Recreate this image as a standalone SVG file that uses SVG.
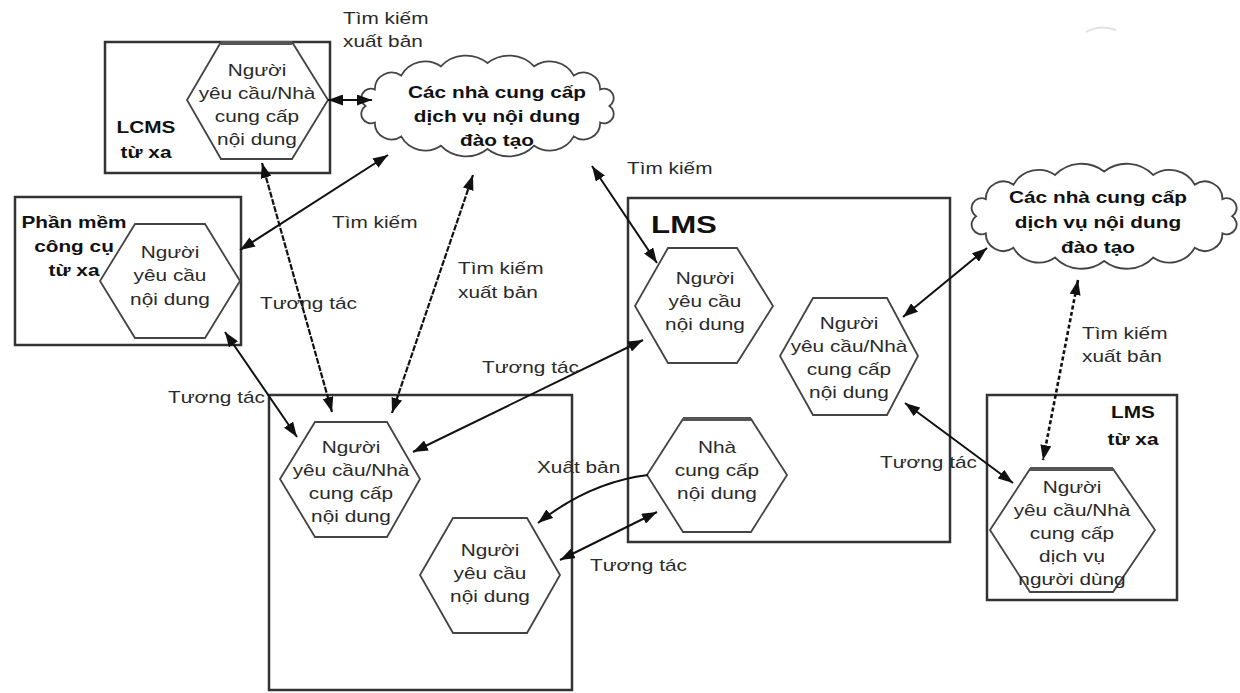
<svg xmlns="http://www.w3.org/2000/svg" xmlns:xlink="http://www.w3.org/1999/xlink" width="1240" height="693" viewBox="0 0 1240 693">
  <style>
    .box { fill: none; stroke: #333; stroke-width: 2.5; }
    .hex { fill: #fff; stroke: #444; stroke-width: 1.8; }
    .cap { stroke: #555; stroke-width: 4; }
    .cloud { fill: #fff; stroke: #444; stroke-width: 1.8; }
    .t { font-family: "Liberation Sans", Arial, sans-serif; font-size: 16px; fill: #2a2a2a; }
    .b { font-weight: bold; fill: #111; }
    .big { font-size: 24px; }
    .m { text-anchor: middle; }
    .c { fill: none; stroke: #111; stroke-width: 2; marker-start: url(#arr); marker-end: url(#arr); }
    .d { stroke-dasharray: 6 1.5; stroke-width: 2.2; }
    .dd { stroke-dasharray: 4 2.5; stroke-width: 2.6; }
    .one { marker-start: none; }
  </style>
  <defs>
    <marker id="arr" viewBox="0 0 15 11" refX="15" refY="5.5" markerWidth="15" markerHeight="11" markerUnits="userSpaceOnUse" orient="auto-start-reverse">
      <path d="M0,0 L15,5.5 L0,11 Z" fill="#111"/>
    </marker>
    <!-- bumpy cloud outline, local box about 0..257 x 0..108 -->
    <path id="cloudShape" d="M10.5,56 A9.5,9.5 0 0 1 19.8,39.5 A16.8,16.8 0 0 1 46.2,25.6 A27.5,27.5 0 0 1 85.8,16.3 A34.9,34.9 0 0 1 132.5,13 A34.9,34.9 0 0 1 179.2,16.3 A27.5,27.5 0 0 1 218.8,25.6 A16.8,16.8 0 0 1 245.2,39.5 A9.5,9.5 0 0 1 254.5,56 A9.5,9.5 0 0 1 245.2,72.5 A16.8,16.8 0 0 1 218.8,86.4 A27.5,27.5 0 0 1 179.2,95.7 A34.9,34.9 0 0 1 132.5,99 A34.9,34.9 0 0 1 85.8,95.7 A27.5,27.5 0 0 1 46.2,86.4 A16.8,16.8 0 0 1 19.8,72.5 A9.5,9.5 0 0 1 10.5,56 Z"/>
  </defs>

  <rect width="1240" height="693" fill="#fff"/>

  <!-- faint stray stroke, top right -->
  <path d="M1086,32 Q1100,24 1116,30" fill="none" stroke="#e2e2e2" stroke-width="2"/>

  <!-- container boxes -->
  <g id="box-lcms">
    <rect class="box" x="105" y="42" width="225" height="131"/>
    <text class="t b m" transform="translate(146,133) scale(1.3,1)"><tspan x="0">LCMS</tspan><tspan x="0" dy="25">từ xa</tspan></text>
  </g>
  <g id="box-tool">
    <rect class="box" x="15" y="197" width="226" height="148"/>
    <text class="t b m" transform="translate(74,228) scale(1.3,1)"><tspan x="0">Phần mềm</tspan><tspan x="0" dy="24">công cụ</tspan><tspan x="0" dy="24">từ xa</tspan></text>
  </g>
  <g id="box-local">
    <rect class="box" x="269" y="395" width="303" height="295"/>
  </g>
  <g id="box-lms">
    <rect class="box" x="628" y="198" width="322" height="344"/>
    <text class="t b big m" transform="translate(684,233) scale(1.3,1)">LMS</text>
  </g>
  <g id="box-lms-remote">
    <rect class="box" x="987" y="395" width="190" height="205"/>
    <text class="t b m" transform="translate(1133,418) scale(1.3,1)"><tspan x="0">LMS</tspan><tspan x="0" dy="27">từ xa</tspan></text>
  </g>

  <!-- clouds -->
  <g id="cloud-1">
    <use xlink:href="#cloudShape" class="cloud" transform="translate(355,50)"/>
    <text class="t b m" transform="translate(497,98) scale(1.3,1)"><tspan x="0">Các nhà cung cấp</tspan><tspan x="0" dy="24">dịch vụ nội dung</tspan><tspan x="0" dy="24">đào tạo</tspan></text>
  </g>
  <g id="cloud-2">
    <use xlink:href="#cloudShape" class="cloud" transform="translate(965,158) scale(1.05,1.04)"/>
    <text class="t b m" transform="translate(1098,203) scale(1.3,1)"><tspan x="0">Các nhà cung cấp</tspan><tspan x="0" dy="25">dịch vụ nội dung</tspan><tspan x="0" dy="25">đào tạo</tspan></text>
  </g>

  <!-- hexagon nodes -->
  <g id="hex-lcms">
    <polygon class="hex" points="221,42 292,42 328,100 292,159 221,159 187,100"/>
    <line class="cap" x1="221" y1="43" x2="292" y2="43"/>
    <text class="t m" transform="translate(257,76) scale(1.3,1)"><tspan x="0">Người</tspan><tspan x="0" dy="23">yêu cầu/Nhà</tspan><tspan x="0" dy="23">cung cấp</tspan><tspan x="0" dy="23">nội dung</tspan></text>
  </g>
  <g id="hex-tool">
    <polygon class="hex" points="135,224 205,224 240,281 205,338 135,338 100,281"/>
    <text class="t m" transform="translate(170,258) scale(1.3,1)"><tspan x="0">Người</tspan><tspan x="0" dy="23.5">yêu cầu</tspan><tspan x="0" dy="23.5">nội dung</tspan></text>
  </g>
  <g id="hex-local-1">
    <polygon class="hex" points="315,422 387,422 420,479 387,537 315,537 280,479"/>
    <text class="t m" transform="translate(351,453) scale(1.3,1)"><tspan x="0">Người</tspan><tspan x="0" dy="23">yêu cầu/Nhà</tspan><tspan x="0" dy="23">cung cấp</tspan><tspan x="0" dy="23">nội dung</tspan></text>
  </g>
  <g id="hex-local-2">
    <polygon class="hex" points="453,518 527,518 560,575 527,633 453,633 420,575"/>
    <text class="t m" transform="translate(490,556) scale(1.3,1)"><tspan x="0">Người</tspan><tspan x="0" dy="23">yêu cầu</tspan><tspan x="0" dy="23">nội dung</tspan></text>
  </g>
  <g id="hex-lms-1">
    <polygon class="hex" points="668,248 737,248 773,306 737,363 668,363 635,306"/>
    <text class="t m" transform="translate(705,284) scale(1.3,1)"><tspan x="0">Người</tspan><tspan x="0" dy="23">yêu cầu</tspan><tspan x="0" dy="23">nội dung</tspan></text>
  </g>
  <g id="hex-lms-2">
    <polygon class="hex" points="813,298 887,298 918,356 887,415 813,415 780,356"/>
    <text class="t m" transform="translate(849,329) scale(1.3,1)"><tspan x="0">Người</tspan><tspan x="0" dy="23">yêu cầu/Nhà</tspan><tspan x="0" dy="23">cung cấp</tspan><tspan x="0" dy="23">nội dung</tspan></text>
  </g>
  <g id="hex-lms-3">
    <polygon class="hex" points="683,419 751,419 787,475 751,532 683,532 647,475"/>
    <line class="cap" x1="683" y1="419" x2="751" y2="419"/>
    <text class="t m" transform="translate(717,453) scale(1.3,1)"><tspan x="0">Nhà</tspan><tspan x="0" dy="23">cung cấp</tspan><tspan x="0" dy="23">nội dung</tspan></text>
  </g>
  <g id="hex-remote">
    <polygon class="hex" points="1030,469 1113,469 1155,530 1113,592 1030,592 990,530"/>
    <line class="cap" x1="1030" y1="469" x2="1113" y2="469"/>
    <text class="t m" transform="translate(1072,493) scale(1.3,1)"><tspan x="0">Người</tspan><tspan x="0" dy="23">yêu cầu/Nhà</tspan><tspan x="0" dy="23">cung cấp</tspan><tspan x="0" dy="23">dịch vụ</tspan><tspan x="0" dy="23">người dùng</tspan></text>
  </g>

  <!-- connectors -->
  <g id="connectors">
    <line class="c" x1="328" y1="100" x2="372" y2="100"/>
    <line class="c" x1="240" y1="250" x2="388" y2="155"/>
    <line class="c d" x1="262" y1="163" x2="332" y2="412"/>
    <line class="c" x1="225" y1="332" x2="297" y2="437"/>
    <line class="c d" x1="473" y1="175" x2="392" y2="413"/>
    <line class="c" x1="592" y1="166" x2="657" y2="263"/>
    <line class="c" x1="643" y1="340" x2="413" y2="452"/>
    <path class="c one" d="M648,475 Q590,482 538,523"/>
    <line class="c" x1="560" y1="560" x2="657" y2="512"/>
    <line class="c" x1="987" y1="248" x2="903" y2="317"/>
    <line class="c" x1="905" y1="403" x2="1013" y2="483"/>
    <line class="c dd" x1="1078" y1="280" x2="1043" y2="460"/>

    <!-- connector labels -->
    <text class="t" transform="translate(343,24) scale(1.3,1)"><tspan x="0">Tìm kiếm</tspan><tspan x="0" dy="23">xuất bản</tspan></text>
    <text class="t" transform="translate(332,228) scale(1.3,1)">Tìm kiếm</text>
    <text class="t" transform="translate(458,274) scale(1.3,1)"><tspan x="0">Tìm kiếm</tspan><tspan x="0" dy="24">xuất bản</tspan></text>
    <text class="t" transform="translate(627,174) scale(1.3,1)">Tìm kiếm</text>
    <text class="t" transform="translate(260,309) scale(1.3,1)">Tương tác</text>
    <text class="t" transform="translate(168,403) scale(1.3,1)">Tương tác</text>
    <text class="t" transform="translate(482,373) scale(1.3,1)">Tương tác</text>
    <text class="t" transform="translate(537,473) scale(1.3,1)">Xuất bản</text>
    <text class="t" transform="translate(590,571) scale(1.3,1)">Tương tác</text>
    <text class="t" transform="translate(880,468) scale(1.3,1)">Tương tác</text>
    <text class="t" transform="translate(1082,339) scale(1.3,1)"><tspan x="0">Tìm kiếm</tspan><tspan x="0" dy="23">xuất bản</tspan></text>
  </g>
</svg>
